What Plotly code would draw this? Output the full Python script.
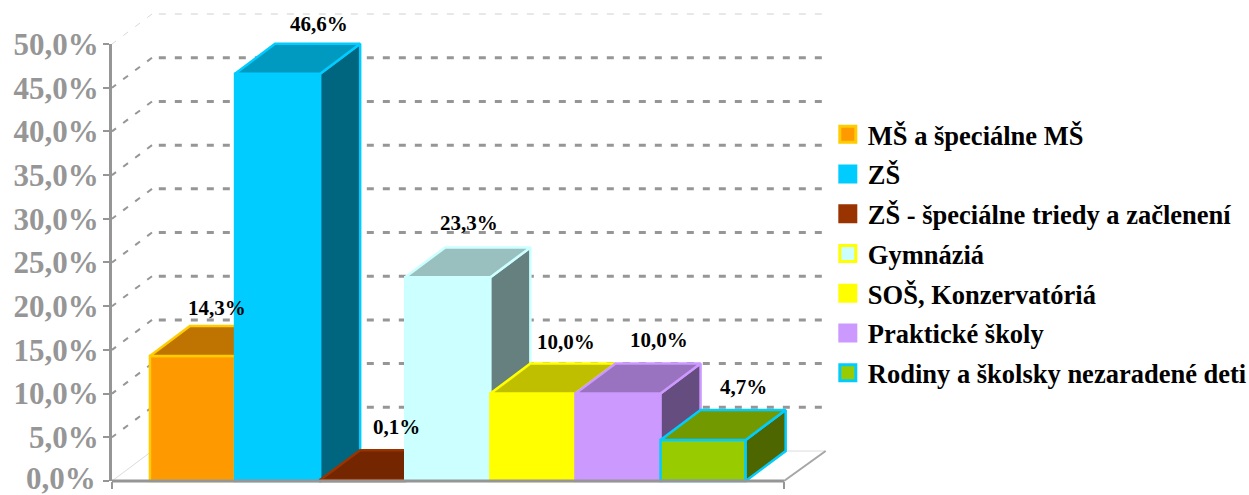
import plotly.graph_objects as go

# ---- data ----
categories = ["MŠ a špeciálne MŠ", "ZŠ", "ZŠ - špeciálne triedy a začlenení", "Gymnáziá",
              "SOŠ, Konzervatóriá", "Praktické školy", "Rodiny a školsky nezaradené deti"]
values = [14.3, 46.6, 0.1, 23.3, 10.0, 10.0, 4.7]
y_ticks = [0, 5, 10, 15, 20, 25, 30, 35, 40, 45, 50]
y_tick_labels = ["0,0%", "5,0%", "10,0%", "15,0%", "20,0%", "25,0%", "30,0%", "35,0%", "40,0%", "45,0%", "50,0%"]

# ---- style ----
front = ["#FF9900", "#00CCFF", "#993300", "#CCFFFF", "#FFFF00", "#CC99FF", "#99CC00"]
top = ["#BF7300", "#0099BF", "#732600", "#99BFBF", "#BFBF00", "#9973BF", "#739900"]
side = ["#804D00", "#006680", "#4D1A00", "#668080", "#808000", "#664D80", "#4D6600"]
border = ["#FFCC00", "#00CCFF", "#993300", "#CCFFFF", "#FFFF00", "#CC99FF", "#00CCFF"]
legend_border = ["#FFCC00", "#00CCFF", "#993300", "#FFFF00", "#FFFF00", "#CC99FF", "#00CCFF"]
label_shift = [(24, 18), (41, 20), (34, 23), (21, 24), (33, 22), (41, 24), (40, 23)]  # px, from back-top centre
GREY = "#969696"
SERIF = "Liberation Serif"
EDGE = 2.5

# ---- 3D projection: depth expressed in axis units ----
DX, DY = 0.47, 3.43
X_LEFT, X_END, X_MAX = -0.946, 6.95, 7.44
X_RANGE = [-1.087, 7.491]
Y_RANGE = [-1.602, 54.12]

fig = go.Figure()


def line(xs, ys, color, width, dash="solid", xa="x", ya="y"):
    fig.add_trace(go.Scatter(x=xs, y=ys, mode="lines", showlegend=False, hoverinfo="skip",
                             line=dict(color=color, width=width, dash=dash),
                             xaxis=xa, yaxis=ya))


# walls and floor
for t in y_ticks:
    if t == 0:
        line([X_LEFT, X_LEFT + DX, X_MAX], [0, DY, DY], "#DCDCDC", 1)
    elif t == y_ticks[-1]:
        line([X_LEFT + DX, X_LEFT], [t + DY, t], "#D8D8D8", 1, "6px,9px")
        line([X_LEFT + DX + 0.08, X_MAX], [t + DY, t + DY], "#D0D0D0", 1, "7px,9px")
    else:
        line([X_LEFT + DX, X_LEFT], [t + DY, t], GREY, 2, "6px,9px")
        line([X_LEFT + DX + 0.08, X_MAX], [t + DY, t + DY], GREY, 3, "7px,9px")
line([X_END, X_MAX], [0, DY], "#A6A6A6", 2)

# one overlaying subplot per bar, painted left to right so nearer bars hide farther faces
layout_axes = {}
for i, (name, v) in enumerate(zip(categories, values)):
    n = i + 2
    xa, ya = f"x{n}", f"y{n}"
    layout_axes[f"xaxis{n}"] = dict(overlaying="x", range=X_RANGE, visible=False, fixedrange=True)
    layout_axes[f"yaxis{n}"] = dict(overlaying="y", range=Y_RANGE, visible=False, fixedrange=True)
    fig.add_trace(go.Bar(x=[i], y=[v], width=[1], name=name, showlegend=False,
                         marker=dict(color=front[i], line=dict(color=border[i], width=EDGE)),
                         xaxis=xa, yaxis=ya))
    r = i + 0.5
    l = i - 0.5
    fig.add_trace(go.Scatter(x=[r, r + DX, r + DX, r, r], y=[0, DY, v + DY, v, 0], mode="lines", fill="toself",
                             fillcolor=side[i], line=dict(color=border[i], width=EDGE), showlegend=False,
                             hoverinfo="skip", xaxis=xa, yaxis=ya))
    fig.add_trace(go.Scatter(x=[l, r, r + DX, l + DX, l], y=[v, v, v + DY, v + DY, v], mode="lines", fill="toself",
                             fillcolor=top[i], line=dict(color=border[i], width=EDGE), showlegend=False,
                             hoverinfo="skip", xaxis=xa, yaxis=ya))

# legend entries
for i, name in enumerate(categories):
    fig.add_trace(go.Scatter(x=[None], y=[None], mode="markers", name=name, legendgroup=name,
                             marker=dict(symbol="square", size=16, color=front[i],
                                         line=dict(color=legend_border[i], width=3))))

# a separate visible axis pair spanning only the chart's front plane
fig.add_trace(go.Scatter(x=[None], y=[None], mode="markers", showlegend=False, hoverinfo="skip",
                         xaxis="x10", yaxis="y10"))

# baseline, above the bars
shapes = [dict(type="line", xref="x", yref="y", x0=X_LEFT, x1=X_END, y0=0, y1=0, layer="above",
               line=dict(color=GREY, width=3))]

# value labels
annotations = []
for i, v in enumerate(values):
    sx, sy = label_shift[i]
    annotations.append(dict(x=i, y=v + DY, xref="x", yref="y", xshift=sx, yshift=sy, showarrow=False,
                            text=f"{v:.1f}".replace(".", ",") + "%",
                            font=dict(family=SERIF, size=21, color="black", weight="bold")))
# the lowest tick label sits at the page edge, so it is placed as an annotation kept inside the page
annotations.append(dict(x=X_LEFT, y=y_ticks[0], xref="x", yref="y", xanchor="right", yanchor="middle",
                        xshift=-14, yshift=3, showarrow=False, text=y_tick_labels[0],
                        font=dict(family=SERIF, size=31, color=GREY, weight="bold")))

fig.update_layout(
    width=1249, height=495, autosize=False,
    margin=dict(l=100, r=419, t=8, b=0, pad=0, autoexpand=False),
    paper_bgcolor="white", plot_bgcolor="rgba(0,0,0,0)",
    showlegend=True, hovermode=False, annotations=annotations, shapes=shapes,
    xaxis=dict(range=X_RANGE, visible=False, fixedrange=True),
    yaxis=dict(range=Y_RANGE, visible=False, fixedrange=True),
    xaxis10=dict(domain=[0.01644, 0.93699], anchor="y10", range=[X_LEFT, X_END], fixedrange=True,
                 showgrid=False, zeroline=False, showline=False,
                 tickmode="array", tickvals=[X_LEFT, X_END], ticktext=["", ""],
                 ticks="outside", ticklen=7, tickwidth=2, tickcolor=GREY),
    yaxis10=dict(domain=[0.02875, 0.92608], anchor="x10", range=[y_ticks[0], y_ticks[-1]], fixedrange=True,
                 showgrid=False, zeroline=False, showline=True, linecolor=GREY, linewidth=3,
                 tickmode="array", tickvals=y_ticks, ticktext=[""] + y_tick_labels[1:],
                 ticks="outside", ticklen=6, tickwidth=2, tickcolor=GREY, ticklabelstandoff=-2,
                 tickfont=dict(family=SERIF, size=31, color=GREY, weight="bold")),
    legend=dict(x=0.997, xanchor="left", y=0.7895, yanchor="top", traceorder="grouped",
                tracegroupgap=2.3, bgcolor="rgba(0,0,0,0)",
                font=dict(family=SERIF, size=26.5, color="black", weight="bold")),
    **layout_axes,
)

fig.write_html("out.html", config={"displayModeBar": False},
               post_script="document.body.style.margin='0';")
